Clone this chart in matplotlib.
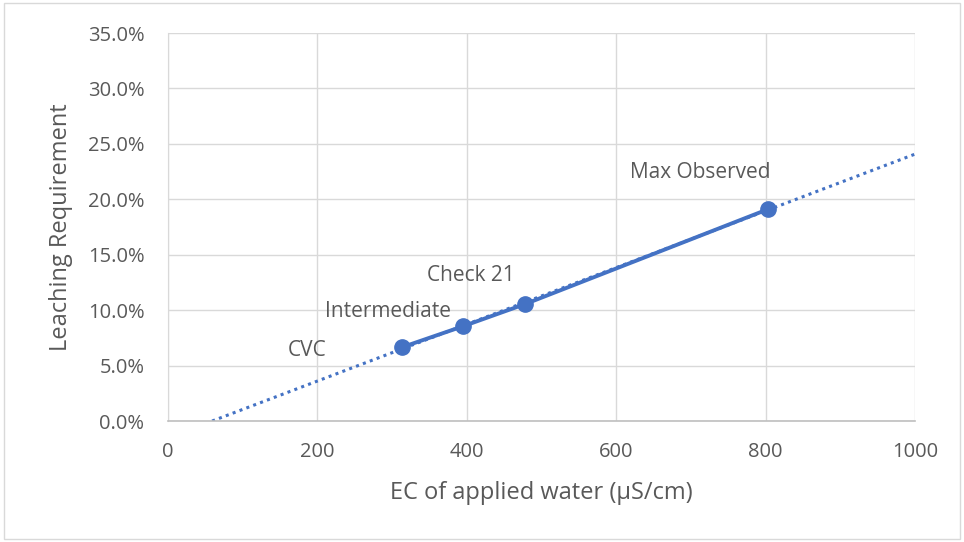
import numpy as np
import matplotlib
matplotlib.use("Agg")
import matplotlib.pyplot as plt
from matplotlib.ticker import PercentFormatter
from matplotlib.patches import Rectangle

plt.rcParams['font.family'] = ['Open Sans', 'DejaVu Sans']

# data
labels = ["CVC", "Intermediate", "Check 21", "Max Observed"]
ec_water = [313, 395, 478, 803]
leaching = [6.65, 8.55, 10.55, 19.1]

blue = "#4472c4"
txt = "#595959"

fig = plt.figure(figsize=(9.64, 5.42), dpi=100)
ax = fig.add_axes([0.1743, 0.2232, 0.7749, 0.7159])

# outer chart border
fig.patches.append(Rectangle((0.004, 0.006), 0.992, 0.988, transform=fig.transFigure,
                             fill=False, edgecolor="#d9d9d9", linewidth=1))

# linear trendline (fit of the points), starting where it crosses 0
m, b = np.polyfit(ec_water, leaching, 1)
x0 = -b / m
xs = np.array([x0, 1000])
ax.plot(xs, m * xs + b, linestyle=(0, (1, 1.4)), color=blue, linewidth=2.2, zorder=2)

ax.plot(ec_water, leaching, color=blue, linewidth=2.8, marker="o", markersize=11, zorder=3)

# label offsets in pixels from each point
offsets = {"CVC": (-114, -3), "Intermediate": (-138, 15), "Check 21": (-98, 29), "Max Observed": (-138, 37)}
for lab, x, y in zip(labels, ec_water, leaching):
    dx, dy = offsets[lab]
    ax.annotate(lab, (x, y), xytext=(dx, dy), textcoords="offset pixels",
                ha="left", va="center", fontsize=15, color=txt)

ax.set_xlim(0, 1000)
ax.set_ylim(0, 35)
ax.set_xticks(range(0, 1001, 200))
ax.set_yticks(np.arange(0, 35.1, 5))
ax.yaxis.set_major_formatter(PercentFormatter(decimals=1))
ax.grid(True, color="#d9d9d9", linewidth=1)
ax.set_axisbelow(True)
for s in ["top", "right"]:
    ax.spines[s].set_visible(False)
ax.spines["left"].set_color("#d9d9d9")
ax.spines["bottom"].set_color("#bfbfbf")
ax.spines["bottom"].set_linewidth(1.2)
ax.tick_params(axis="y", length=0, labelsize=14.5, labelcolor=txt, pad=17)
ax.tick_params(axis="x", length=0, labelsize=14.5, labelcolor=txt, pad=15)

ax.set_xlabel("EC of applied water (µS/cm)", fontsize=17, color=txt, va="center")
ax.set_ylabel("Leaching Requirement", fontsize=17, color=txt, va="center", ha="center")
ax.xaxis.set_label_coords(0.5, -0.1856)
ax.yaxis.set_label_coords(-0.1432, 0.5)

fig.savefig("out.png", dpi=100)
